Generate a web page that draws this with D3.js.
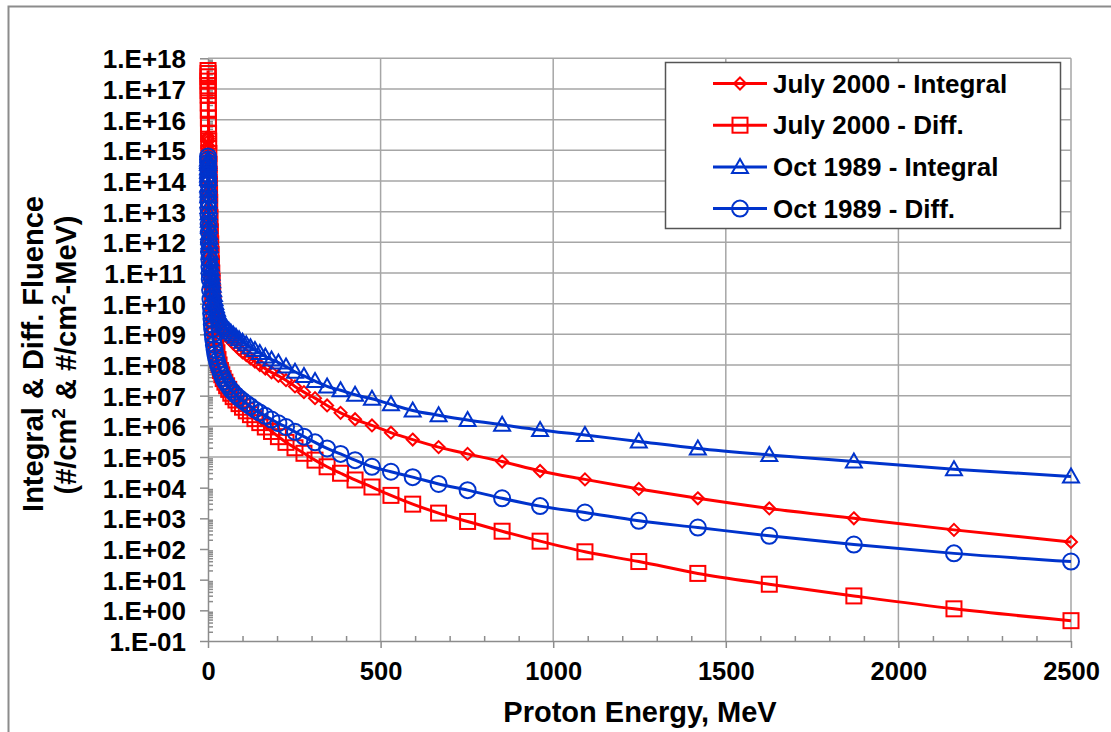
<!DOCTYPE html>
<html>
<head>
<meta charset="utf-8">
<script src="https://cdn.jsdelivr.net/npm/d3@7"></script>
<style>
  body { margin: 0; background: #fff; }
  text { font-family: "Liberation Sans", Arial, sans-serif; font-weight: bold; fill: #000; }
</style>
</head>
<body>
<svg id="chart" width="1111" height="732"></svg>
<script>
// proton energy grid, MeV (shared by all four series)
var energies = [0.1, 0.15, 0.2, 0.3, 0.4, 0.5, 0.6, 0.8, 1, 1.2, 1.4, 1.7, 2, 2.5, 3, 3.5, 4, 4.5, 5,
  6, 7, 8, 9, 10, 11, 12, 13.5, 15, 17, 19, 21, 23, 26, 29, 32, 36, 40, 44, 49,
  54, 60, 66, 73, 81, 90, 100, 111, 123, 136, 150, 166, 184, 204, 226, 252, 278, 310, 345, 384,
  426, 475, 530, 593, 668, 752, 852, 962, 1092, 1248, 1419, 1626, 1871, 2161, 2500];

var july2000Integral = [2.8e15, 2.4e15, 2.0e15, 1.41e15, 1.0e15, 7.4e14, 5.4e14, 3.2e14, 1.8e14, 1.12e14, 7.1e13, 4.0e13, 2.5e13, 1.26e13, 7.1e12, 4.0e12, 2.5e12, 1.6e12, 1.12e12,
  5.6e11, 3.2e11, 1.9e11, 1.26e11, 8.3e10, 5.9e10, 4.3e10, 2.8e10, 2.0e10, 1.32e10, 9.3e9, 6.9e9, 5.2e9, 3.8e9, 2.95e9, 2.3e9, 1.86e9, 1.5e9, 1.26e9, 1.05e9,
  8.9e8, 7.4e8, 6.3e8, 5.1e8, 4.2e8, 3.3e8, 2.6e8, 2.1e8, 1.66e8, 1.29e8, 1.0e8, 7.6e7, 5.75e7, 4.4e7, 3.2e7, 2.0e7, 1.3e7, 8.3e6, 4.8e6, 2.75e6,
  1.7e6, 1.07e6, 6.2e5, 3.7e5, 2.1e5, 1.26e5, 7.1e4, 3.5e4, 1.86e4, 9.1e3, 4.5e3, 2.1e3, 1.0e3, 4.2e2, 1.7e2];

var july2000Diff = [4.0e17, 3.2e17, 2.5e17, 1.8e17, 1.26e17, 8.9e16, 6.3e16, 3.5e16, 2.0e16, 1.12e16, 7.1e15, 3.5e15, 2.0e15, 7.9e14, 3.5e14, 1.6e14, 7.9e13, 4.0e13, 2.0e13,
  6.3e12, 2.2e12, 8.9e11, 4.0e11, 2.0e11, 1.0e11, 5.2e10, 2.2e10, 1.0e10, 4.0e9, 1.8e9, 8.9e8, 5.0e8, 2.5e8, 1.5e8, 1.0e8, 6.6e7, 4.8e7, 3.6e7, 2.75e7,
  2.1e7, 1.6e7, 1.2e7, 9.3e6, 7.2e6, 5.5e6, 4.2e6, 3.2e6, 2.4e6, 1.78e6, 1.32e6, 9.5e5, 6.8e5, 4.6e5, 3.0e5, 2.0e5, 1.32e5, 7.9e4, 4.8e4, 2.95e4,
  1.78e4, 1.05e4, 5.6e3, 2.9e3, 1.48e3, 7.9e2, 3.8e2, 1.8e2, 81, 39, 16, 7.1, 2.95, 1.12, 0.46];

var oct1989Integral = [5.0e14, 4.2e14, 3.55e14, 2.6e14, 2.0e14, 1.5e14, 1.15e14, 7.1e13, 4.8e13, 3.2e13, 2.2e13, 1.41e13, 8.9e12, 5.0e12, 3.2e12, 2.0e12, 1.41e12, 1.0e12, 7.6e11,
  4.5e11, 2.8e11, 1.9e11, 1.32e11, 9.5e10, 7.1e10, 5.4e10, 3.8e10, 2.75e10, 1.9e10, 1.38e10, 1.05e10, 8.3e9, 6.3e9, 4.9e9, 4.0e9, 3.2e9, 2.6e9, 2.2e9, 1.8e9,
  1.55e9, 1.32e9, 1.15e9, 9.8e8, 8.3e8, 6.9e8, 5.75e8, 4.7e8, 3.8e8, 3.1e8, 2.45e8, 1.9e8, 1.5e8, 1.2e8, 8.9e7, 6.0e7, 4.4e7, 3.0e7, 2.0e7, 1.5e7,
  1.07e7, 7.9e6, 5.2e6, 3.3e6, 2.3e6, 1.6e6, 1.12e6, 7.6e5, 5.2e5, 3.2e5, 1.9e5, 1.17e5, 7.1e4, 4.0e4, 2.3e4];

var oct1989Diff = [6.3e14, 5.0e14, 4.0e14, 2.5e14, 1.6e14, 1.12e14, 7.9e13, 4.0e13, 2.2e13, 1.26e13, 7.9e12, 4.0e12, 2.2e12, 1.0e12, 5.0e11, 2.8e11, 1.6e11, 1.0e11, 6.3e10,
  2.8e10, 1.41e10, 7.9e9, 4.8e9, 3.2e9, 2.1e9, 1.5e9, 1.0e9, 6.9e8, 4.5e8, 3.2e8, 2.3e8, 1.8e8, 1.32e8, 1.0e8, 7.9e7, 6.0e7, 4.7e7, 3.7e7, 2.95e7,
  2.4e7, 1.95e7, 1.58e7, 1.29e7, 1.05e7, 8.5e6, 6.9e6, 5.6e6, 4.5e6, 3.5e6, 2.8e6, 2.2e6, 1.66e6, 1.26e6, 9.5e5, 6.6e5, 4.6e5, 3.0e5, 1.9e5, 1.26e5,
  7.9e4, 4.8e4, 3.3e4, 2.2e4, 1.32e4, 8.3e3, 4.5e3, 2.5e3, 1.55e3, 8.3e2, 5.0e2, 2.7e2, 1.4e2, 72, 39];

var seriesNames = ['July 2000 - Integral', 'July 2000 - Diff.', 'Oct 1989 - Integral', 'Oct 1989 - Diff.'];
var xTicks = [0, 500, 1000, 1500, 2000, 2500];
var yTicks = [1e-1, 1e0, 1e1, 1e2, 1e3, 1e4, 1e5, 1e6, 1e7, 1e8, 1e9, 1e10, 1e11, 1e12, 1e13, 1e14, 1e15, 1e16, 1e17, 1e18];
var yGrid = [1e5, 1e6, 1e7, 1e8, 1e9, 1e10, 1e11, 1e12, 1e13, 1e14, 1e15, 1e16, 1e17, 1e18];

var app = {};
app.left = 208; app.right = 1071;   // plot area in pixels
app.top = 58.3; app.bottom = 641;
app.red = '#ff0000';
app.blue = '#0033cc';
app.grid = '#a6a6a6';

var svg = d3.select('#chart');

var x = d3.scaleLinear().domain([0, 2500]).range([app.left, app.right]);
var y = d3.scaleLog().domain([1e-1, 1e18]).range([app.bottom, app.top]);

// outer chart frame
svg.append('path')
  .attr('d', 'M8.5,745 V6.5 H1111')
  .style('fill', 'none').style('stroke', '#8c8c8c').style('stroke-width', 2);

// gridlines
svg.append('g').selectAll('line').data(yGrid).enter().append('line')
  .attr('x1', app.left).attr('x2', app.right)
  .attr('y1', function(d){ return y(d); }).attr('y2', function(d){ return y(d); })
  .style('stroke', app.grid).style('stroke-width', 1.5);
svg.append('g').selectAll('line').data(xTicks.slice(1)).enter().append('line')
  .attr('x1', function(d){ return x(d); }).attr('x2', function(d){ return x(d); })
  .attr('y1', app.top).attr('y2', app.bottom)
  .style('stroke', app.grid).style('stroke-width', 1.5);

function expFormat(v){
  var e = Math.round(Math.log10(v));
  return '1.E' + (e < 0 ? '-' : '+') + String(Math.abs(e)).padStart(2, '0');
}

// y axis: major ticks outside, minor ticks inside
var yMinor = [];
yTicks.slice(0, -1).forEach(function(t){
  for (var m = 2; m <= 9; m++) yMinor.push(t * m);
});
var yAxis = svg.append('g').attr('transform', 'translate(' + app.left + ',0)')
  .call(d3.axisLeft(y).tickValues(yTicks).tickFormat(expFormat).tickSizeInner(8).tickSizeOuter(0).tickPadding(14));
svg.append('g').attr('transform', 'translate(' + app.left + ',0)')
  .call(d3.axisRight(y).tickValues(yMinor).tickFormat('').tickSizeInner(5).tickSizeOuter(0))
  .select('.domain').remove();

// x axis
var xMinor = [];
for (var v = 100; v < 2500; v += 100) if (v % 500) xMinor.push(v);
var xAxis = svg.append('g').attr('transform', 'translate(0,' + app.bottom + ')')
  .call(d3.axisBottom(x).tickValues(xTicks).tickFormat(d3.format('d')).tickSizeInner(7).tickSizeOuter(0).tickPadding(14));
svg.append('g').attr('transform', 'translate(0,' + app.bottom + ')')
  .call(d3.axisTop(x).tickValues(xMinor).tickFormat('').tickSizeInner(5).tickSizeOuter(0))
  .select('.domain').remove();

svg.selectAll('.domain, .tick line').style('stroke', '#8c8c8c').style('stroke-width', 1.5);
svg.selectAll('.tick text').style('font-size', '25.5px').style('font-family', '"Liberation Sans", Arial, sans-serif');
yAxis.selectAll('.tick text').style('font-size', '26px').attr('dy', '0.36em');

// axis titles
svg.append('text').attr('x', 640).attr('y', 722).attr('text-anchor', 'middle')
  .style('font-size', '29px').text('Proton Energy, MeV');
var yt = svg.append('text').attr('transform', 'translate(43,354) rotate(-90)')
  .attr('text-anchor', 'middle').style('font-size', '29px');
yt.text('Integral & Diff. Fluence');
var yt2 = svg.append('text').attr('transform', 'translate(76,355) rotate(-90)')
  .attr('text-anchor', 'middle').style('font-size', '29px');
yt2.append('tspan').text('(#/cm');
yt2.append('tspan').attr('dy', -11).style('font-size', '19px').text('2');
yt2.append('tspan').attr('dy', 11).text(' & #/cm');
yt2.append('tspan').attr('dy', -11).style('font-size', '19px').text('2');
yt2.append('tspan').attr('dy', 11).text('-MeV)');

// marker shapes
app.marker = {
  diamond: function(s){ s.append('path').attr('d', 'M0,-6L6,0L0,6L-6,0Z'); },
  square: function(s){ s.append('rect').attr('x', -7.5).attr('y', -7.5).attr('width', 15).attr('height', 15); },
  triangle: function(s){ s.append('path').attr('d', 'M0,-8L8,6L-8,6Z'); },
  circle: function(s){ s.append('circle').attr('r', 8); }
};

var series = [
  { name: seriesNames[0], values: july2000Integral, color: app.red, marker: 'diamond' },
  { name: seriesNames[1], values: july2000Diff, color: app.red, marker: 'square' },
  { name: seriesNames[2], values: oct1989Integral, color: app.blue, marker: 'triangle' },
  { name: seriesNames[3], values: oct1989Diff, color: app.blue, marker: 'circle' }
];

var line = d3.line()
  .x(function(d){ return x(d[0]); })
  .y(function(d){ return y(d[1]); })
  .curve(d3.curveMonotoneX);

series.forEach(function(s){
  var pts = energies.map(function(e, i){ return [e, s.values[i]]; });
  var g = svg.append('g');
  g.append('path').datum(pts).attr('d', line)
    .style('fill', 'none').style('stroke', s.color).style('stroke-width', 3);
  g.selectAll('g.mk').data(pts).enter().append('g').attr('class', 'mk')
    .attr('transform', function(d){ return 'translate(' + x(d[0]) + ',' + y(d[1]) + ')'; })
    .each(function(){ app.marker[s.marker](d3.select(this)); });
  g.selectAll('.mk *').style('fill', 'none').style('stroke', s.color).style('stroke-width', 2);
});

// legend
var lg = svg.append('g');
lg.append('rect').attr('x', 665.5).attr('y', 62.5).attr('width', 395).attr('height', 166)
  .style('fill', '#fff').style('stroke', '#555').style('stroke-width', 1.5);
series.forEach(function(s, i){
  var cy = 83.5 + i * 41.7;
  var row = lg.append('g');
  row.append('line').attr('x1', 713).attr('x2', 767).attr('y1', cy).attr('y2', cy)
    .style('stroke', s.color).style('stroke-width', 3);
  var m = row.append('g').attr('transform', 'translate(740,' + cy + ')');
  app.marker[s.marker](m);
  m.selectAll('*').style('fill', 'none').style('stroke', s.color).style('stroke-width', 2);
  row.append('text').attr('x', 773).attr('y', cy + 9).style('font-size', '26px').text(s.name);
});
</script>
</body>
</html>
